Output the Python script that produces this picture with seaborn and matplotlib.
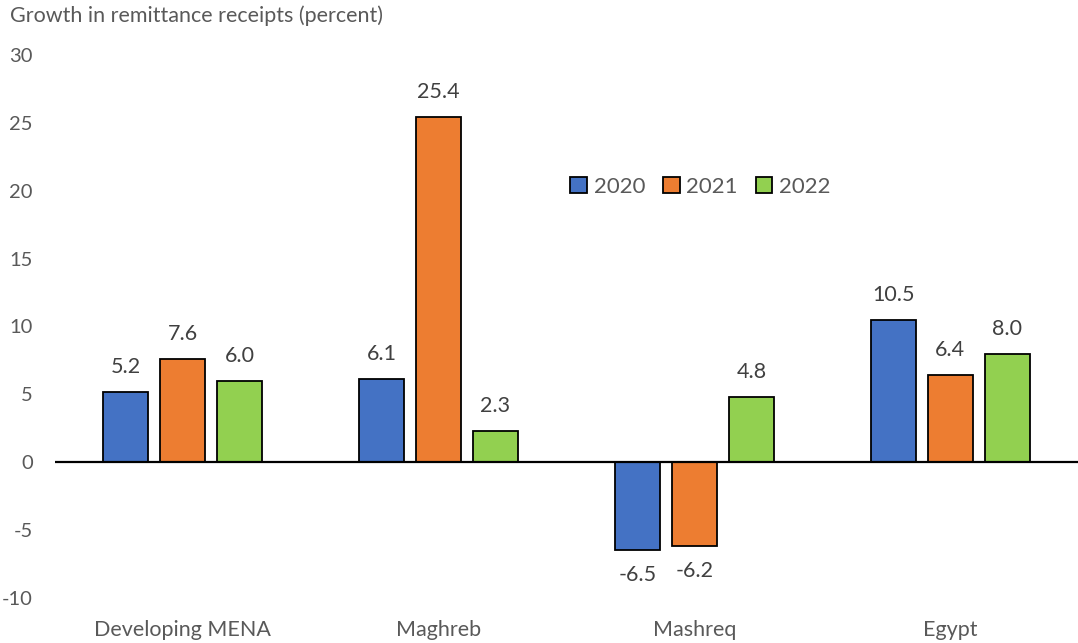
import matplotlib
matplotlib.use("Agg")
import matplotlib.pyplot as plt
import seaborn as sns
import pandas as pd

regions = ["Developing MENA", "Maghreb", "Mashreq", "Egypt"]
years = ["2020", "2021", "2022"]
growth_2020 = [5.2, 6.1, -6.5, 10.5]
growth_2021 = [7.6, 25.4, -6.2, 6.4]
growth_2022 = [6.0, 2.3, 4.8, 8.0]
y_ticks = [-10, -5, 0, 5, 10, 15, 20, 25, 30]

colors = ["#4472C4", "#ED7D31", "#92D050"]
tick_color = "#595959"
label_color = "#404040"

sns.set_theme(style="white")
plt.rcParams["font.family"] = ["Lato", "DejaVu Sans"]

df = pd.DataFrame({
    "region": regions * 3,
    "year": [y for y in years for _ in regions],
    "growth": growth_2020 + growth_2021 + growth_2022,
})

fig = plt.figure(figsize=(10.78, 6.43), dpi=100)
ax = fig.add_axes([0.051, 0.07, 0.949, 0.8445])

sns.barplot(
    data=df, x="region", y="growth", hue="year", order=regions, hue_order=years,
    palette=colors, saturation=1, width=0.668, gap=0.21, edgecolor="black",
    linewidth=1.3, errorbar=None, ax=ax, zorder=3,
)

ax.set_ylim(-10, 30)
ax.set_xlim(-0.5, len(regions) - 0.5)
ax.set_yticks(y_ticks)
ax.set_yticklabels([str(t) for t in y_ticks])
ax.axhline(0, color="black", linewidth=1.6, zorder=4)

for spine in ax.spines.values():
    spine.set_visible(False)
ax.tick_params(axis="y", length=0, pad=16, labelsize=14.5, labelcolor=tick_color)
ax.tick_params(axis="x", length=0, pad=16, labelsize=15.5, labelcolor=tick_color)
ax.set_xlabel("")
ax.set_ylabel("")

for container in ax.containers:
    for bar in container:
        h = bar.get_height()
        x = bar.get_x() + bar.get_width() / 2
        off = 18 if h >= 0 else -18
        ax.annotate(f"{h:.1f}", xy=(x, h), xytext=(0, off), textcoords="offset points",
                    ha="center", va="center", fontsize=15.5, color=label_color)

leg = ax.legend(
    loc="center", bbox_to_anchor=(0.631, 0.757), ncol=3, frameon=False,
    fontsize=16, handlelength=0.75, handleheight=0.75, handletextpad=0.3,
    columnspacing=0.8, labelcolor=tick_color,
)
for h in leg.legend_handles:
    h.set_edgecolor("black")
    h.set_linewidth(1.3)

fig.text(0.009, 0.975, "Growth in remittance receipts (percent)", ha="left", va="center",
         fontsize=15.5, color=tick_color)

fig.savefig("out.png", dpi=100)
